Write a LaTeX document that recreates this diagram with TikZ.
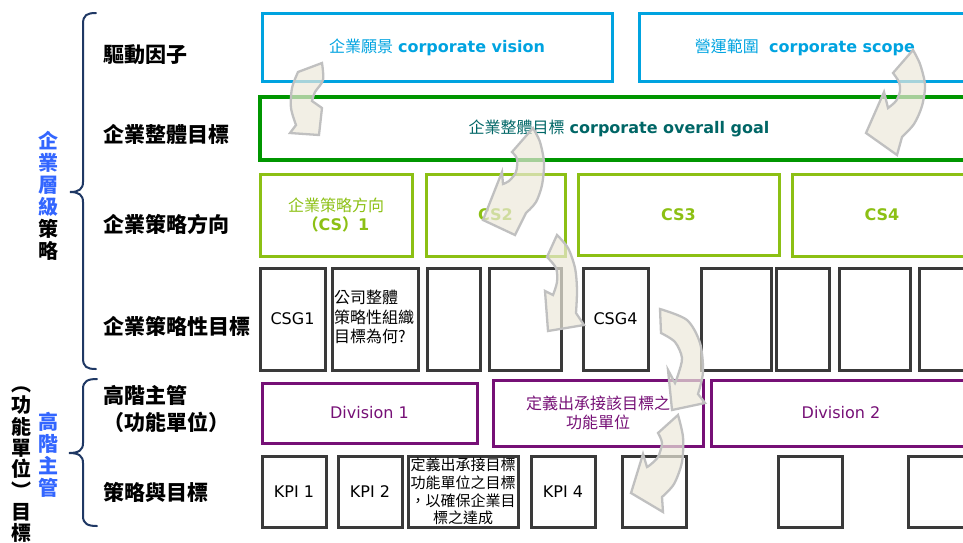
\documentclass[tikz,border=0pt]{standalone}
\usepackage{fontspec}
\setmainfont{DejaVu Sans}
\newfontfamily\cjk{Noto Sans CJK TC}
\definecolor{cblue}{RGB}{0,163,224}
\definecolor{cgreen}{RGB}{0,150,0}
\definecolor{cteal}{RGB}{0,102,102}
\definecolor{clime}{RGB}{140,192,20}
\definecolor{cgray}{RGB}{58,58,58}
\definecolor{cpurple}{RGB}{118,16,118}
\definecolor{cnavy}{RGB}{31,56,100}
\definecolor{vblue}{RGB}{51,102,255}
\definecolor{afill}{RGB}{236,232,218}
\definecolor{aline}{RGB}{192,192,192}
\begin{document}
\begin{tikzpicture}[x=1pt,y=-1pt,
  box/.style={draw, line width=3pt, inner sep=0pt, align=center, font=\fontsize{16}{19.5}\selectfont},
  bluebox/.style={box, draw=cblue, text=cblue},
  goalbox/.style={box, draw=cgreen, text=cteal, line width=3.5pt},
  csbox/.style={box, draw=clime, text=clime},
  grbox/.style={box, draw=cgray, text=black},
  purbox/.style={box, draw=cpurple, text=cpurple},
  rowlabel/.style={anchor=west, inner sep=0pt, align=left, font=\cjk\bfseries\fontsize{21}{25}\selectfont},
  vlabel/.style={inner sep=0pt, align=center},
  brace/.style={draw=cnavy, line width=2pt, line cap=round},
  curvarrow/.style={fill=afill, fill opacity=0.7, draw=aline, line width=2.3pt, line join=miter}
]
\useasboundingbox (0,0) rectangle (963,542);
\clip (0,0) rectangle (963,542);

% ---------- left labels ----------
\node[vlabel, font=\cjk\bfseries\fontsize{20}{22}\selectfont] (vtop) at (48,196)
  {\textcolor{vblue}{企}\\\textcolor{vblue}{業}\\\textcolor{vblue}{層}\\\textcolor{vblue}{級}\\策\\略};
\node[vlabel, font=\cjk\bfseries\fontsize{20}{21.3}\selectfont] (vleft) at (22,459)
  {\vphantom{目}︵\\功\\能\\單\\位\\\vphantom{目}︶\\目\\標};
\node[vlabel, font=\cjk\bfseries\fontsize{20}{22}\selectfont, text=vblue] (vmid) at (48,455)
  {高\\階\\主\\管};

\draw[brace] (96,13) .. controls (87,13) and (83,15) .. (83,24) -- (83,182)
  .. controls (83,189) and (79,192) .. (70,192)
  .. controls (79,192) and (83,195) .. (83,202) -- (83,358)
  .. controls (83,367) and (87,369) .. (96,369);
\draw[brace] (97,379) .. controls (88,379) and (83,381) .. (83,389) -- (83,443)
  .. controls (83,450) and (79,453) .. (69,453)
  .. controls (79,453) and (83,456) .. (83,463) -- (83,516)
  .. controls (83,524) and (88,526) .. (97,526);

\node[rowlabel] (r1) at (103,55) {驅動因子};
\node[rowlabel] (r2) at (103,134) {企業整體目標};
\node[rowlabel] (r3) at (103,224) {企業策略方向};
\node[rowlabel] (r4) at (103,326) {企業策略性目標};
\node[rowlabel] (r5) at (103,395) {高階主管};
\node[rowlabel] (r6) at (103,422) {（功能單位）};
\node[rowlabel] (r7) at (103,492) {策略與目標};

% ---------- top rows ----------
\node[bluebox, minimum width=350pt, minimum height=68pt] (vision) at (437,47)
  {{\cjk 企業願景} \textbf{corporate vision}};
\node[bluebox, minimum width=332pt, minimum height=68pt] (scope) at (805,47)
  {{\cjk 營運範圍}\ \ \textbf{corporate scope}};
\node[goalbox, minimum width=718pt, minimum height=63pt] (goal) at (619,128.5)
  {{\cjk 企業整體目標} \textbf{corporate overall goal}};

\node[csbox, minimum width=152pt, minimum height=82pt] (cs1) at (336,215)
  {{\cjk 企業策略方向}\\{\cjk\bfseries （}\textbf{CS}{\cjk\bfseries ）}\textbf{1}};
\node[csbox, minimum width=139pt, minimum height=82pt] (cs2) at (495.5,215) {\textbf{CS2}};
\node[csbox, minimum width=201pt, minimum height=81pt] (cs3) at (678.5,214.5) {\textbf{CS3}};
\node[csbox, minimum width=180pt, minimum height=82pt] (cs4) at (882,215) {\textbf{CS4}};

% ---------- strategic goals ----------
\node[grbox, minimum width=65pt, minimum height=102pt] (g1) at (292.5,319) {CSG1};
\node[grbox, minimum width=86pt, minimum height=102pt] (g2) at (375,319) {};
\node[anchor=west, inner sep=0pt, align=left, font=\cjk\fontsize{16}{19.5}\selectfont] (g2t) at (334,317)
  {公司整體\\策略性組織\\目標為何?};
\node[grbox, minimum width=53pt, minimum height=102pt] (g3) at (453.5,319) {};
\node[grbox, minimum width=72pt, minimum height=102pt] (g4) at (525,319) {};
\node[grbox, minimum width=65pt, minimum height=102pt] (g5) at (615.5,319) {CSG4};
\node[grbox, minimum width=70pt, minimum height=102pt] (g6) at (736,319) {};
\node[grbox, minimum width=53pt, minimum height=102pt] (g7) at (802.5,319) {};
\node[grbox, minimum width=71pt, minimum height=102pt] (g8) at (874.5,319) {};
\node[grbox, minimum width=70pt, minimum height=102pt] (g9) at (954,319) {};

% ---------- divisions ----------
\node[purbox, minimum width=215pt, minimum height=60pt] (div1) at (369.5,413) {Division 1};
\node[purbox, minimum width=210pt, minimum height=66pt, font=\cjk\fontsize{16}{19.5}\selectfont] (divm) at (598,413)
  {定義出承接該目標之\\功能單位};
\node[purbox, minimum width=260pt, minimum height=66pt] (div2) at (841,413) {Division 2};

% ---------- KPIs ----------
\node[grbox, minimum width=64pt, minimum height=71pt] (k1) at (294,491.5) {KPI 1};
\node[grbox, minimum width=64pt, minimum height=71pt] (k2) at (370,491.5) {KPI 2};
\node[grbox, minimum width=110pt, minimum height=71pt, font=\cjk\fontsize{15}{17.8}\selectfont] (km) at (463,491.5)
  {定義出承接目標\\功能單位之目標\\，以確保企業目\\標之達成};
\node[grbox, minimum width=64pt, minimum height=71pt] (k4) at (563,491.5) {KPI 4};
\node[grbox, minimum width=64pt, minimum height=71pt] (k5) at (654,491.5) {};
\node[grbox, minimum width=64pt, minimum height=71pt] (k6) at (810,491.5) {};
\node[grbox, minimum width=64pt, minimum height=71pt] (k7) at (940,491.5) {};

% ---------- curved block arrows ----------
% vision -> goal
\filldraw[curvarrow] (298,72) -- plot[smooth] coordinates {(322,63) (323,80) (315,92) (312,101)}
  -- (322,108) -- (319,135) -- (290,133)
  -- plot[smooth] coordinates {(296,125) (291,108) (292,88) (298,72)} -- cycle;
% scope -> goal
\filldraw[curvarrow] (913,50) -- plot[smooth] coordinates {(893,73) (899,82) (900,91) (896,101) (888,108)}
  -- (884,92) -- (866,133) -- (897,155)
  -- plot[smooth] coordinates {(902,137) (914,124) (922,106) (925,85) (920,64) (913,50)} -- cycle;
% goal -> CS2
\filldraw[curvarrow] (533,128) -- plot[smooth] coordinates {(512,152) (517,159) (516,172) (509,181) (503,184)}
  -- (502,172) -- (483,220) -- (515,235)
  -- plot[smooth] coordinates {(526,213) (536,202) (542,185) (544,163) (540,142) (533,128)} -- cycle;
% CS2 -> CSG
\filldraw[curvarrow] (557,235) -- plot[smooth] coordinates {(547,257) (556,268) (557,282) (553,295)}
  -- (545,291) -- (548,331) -- (584,325)
  -- plot[smooth] coordinates {(576,313) (577,290) (575,268) (568,248) (557,235)} -- cycle;
% CSG4 -> division
\filldraw[curvarrow] (660,309) -- plot[smooth] coordinates {(661,333) (675,342) (682,358) (678,375) (675,383)}
  -- (668,370) -- (672,410) -- (705,403)
  -- plot[smooth] coordinates {(698,394) (703,372) (700,343) (687,320) (660,309)} -- cycle;
% division -> KPI
\filldraw[curvarrow] (678,415) -- plot[smooth] coordinates {(658,433) (662,443) (658,457) (650,465) (647,467)}
  -- (643,454) -- (631,493) -- (663,512)
  -- plot[smooth] coordinates {(662,497) (674,484) (682,462) (683,437) (678,415)} -- cycle;
\end{tikzpicture}
\end{document}
